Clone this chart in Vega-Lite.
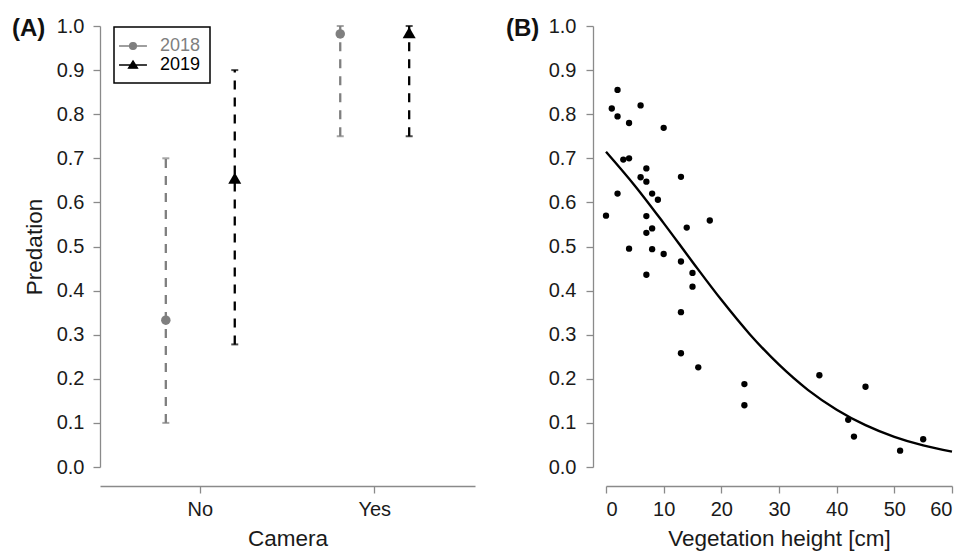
{
  "$schema": "https://vega.github.io/schema/vega-lite/v6.json",
  "padding": {"left": 12, "top": 16, "right": 5, "bottom": 5},
  "background": "white",
  "config": {
    "font": "Liberation Sans",
    "view": {"stroke": null},
    "axis": {"grid": false, "domainColor": "#8a8a8a", "tickColor": "#8a8a8a", "domainWidth": 1.3, "tickWidth": 1.3, "tickSize": 7, "labelColor": "#1a1a1a", "titleColor": "#1a1a1a", "labelFontSize": 20, "titleFontSize": 22.5, "titleFontWeight": "normal", "labelPadding": 9},
    "title": {"fontSize": 24, "fontWeight": "bold", "color": "#111", "anchor": "start", "frame": "group", "baseline": "middle"}
  },
  "hconcat": [
    {
      "width": 375,
      "height": 441,
      "title": {"text": "(A)", "dx": -88, "dy": 25, "offset": 0},
      "data": {"values": [
        {"Camera": "No", "Year": "2018", "p": 0.333, "lo": 0.10, "hi": 0.70},
        {"Camera": "No", "Year": "2019", "p": 0.655, "lo": 0.278, "hi": 0.90},
        {"Camera": "Yes", "Year": "2018", "p": 0.982, "lo": 0.75, "hi": 1.0},
        {"Camera": "Yes", "Year": "2019", "p": 0.985, "lo": 0.75, "hi": 1.0}
      ]},
      "encoding": {
        "x": {"field": "Camera", "type": "nominal", "scale": {"type": "band", "paddingInner": 0.4, "paddingOuter": 0.275}, "axis": {"title": "Camera", "labelAngle": 0, "offset": 19, "titlePadding": 8, "labelPadding": 6}},
        "xOffset": {"field": "Year", "type": "nominal", "scale": {"type": "point", "padding": 0.259}},
        "color": {"field": "Year", "type": "nominal", "scale": {"domain": ["2018", "2019"], "range": ["#7f7f7f", "#000000"]},
          "legend": {
            "title": null, "orient": "none", "legendX": 14, "legendY": 1,
            "padding": 9, "labelFontSize": 18, "symbolSize": 324, "symbolStrokeWidth": 1.3, "labelOffset": 17, "rowPadding": 0,
            "strokeColor": "#000",
            "symbolType": {"expr": "datum.value == '2018' ? 'M-1.55,0L1.55,0M-0.38,0A0.38,0.38,0,1,1,0.38,0A0.38,0.38,0,1,1,-0.38,0Z' : 'M-1.55,0L1.55,0M0,-0.45L0.5,0.35L-0.5,0.35Z'"},
            "labelColor": {"expr": "datum.value == '2018' ? '#7f7f7f' : '#000000'"},
            "encode": {
              "legend": {"update": {"stroke": {"value": "#000"}, "strokeWidth": {"value": 1.5}}},
              "labels": {"update": {"fill": {"signal": "datum.value == '2018' ? '#7f7f7f' : '#000000'"}}}
            }
          }
        }
      },
      "layer": [
        {
          "transform": [{"filter": "datum.Year == '2018'"}],
          "mark": {"type": "point", "filled": true, "opacity": 1, "size": 90},
          "encoding": {"y": {"field": "p", "type": "quantitative"}}
        },
        {
          "transform": [{"filter": "datum.Year == '2019'"}],
          "mark": {"type": "point", "filled": true, "opacity": 1, "size": 170, "shape": "triangle-up"},
          "encoding": {"y": {"field": "p", "type": "quantitative"}}
        },
        {
          "mark": {"type": "rule", "strokeDash": [9, 8], "strokeWidth": 2.3},
          "encoding": {
            "y": {"field": "lo", "type": "quantitative", "scale": {"domain": [0, 1], "nice": false}, "axis": {"title": "Predation", "values": [0, 0.1, 0.2, 0.3, 0.4, 0.5, 0.6, 0.7, 0.8, 0.9, 1.0], "format": ".1f", "titlePadding": 10}},
            "y2": {"field": "hi"}
          }
        },
        {
          "mark": {"type": "tick", "orient": "horizontal", "size": 7, "thickness": 2},
          "encoding": {"y": {"field": "lo", "type": "quantitative"}}
        },
        {
          "mark": {"type": "tick", "orient": "horizontal", "size": 7, "thickness": 2},
          "encoding": {"y": {"field": "hi", "type": "quantitative"}}
        }
      ]
    },
    {
      "width": 346,
      "height": 441,
      "title": {"text": "(B)", "dx": -100, "dy": 25, "offset": 0},
      "layer": [
        {
          "data": {"values": [
            {"veg": 0, "pred": 0.570}, {"veg": 1, "pred": 0.813}, {"veg": 2, "pred": 0.855}, {"veg": 2, "pred": 0.795},
            {"veg": 2, "pred": 0.620}, {"veg": 3, "pred": 0.697}, {"veg": 4, "pred": 0.700}, {"veg": 4, "pred": 0.780},
            {"veg": 4, "pred": 0.495}, {"veg": 6, "pred": 0.820}, {"veg": 6, "pred": 0.657}, {"veg": 7, "pred": 0.677},
            {"veg": 7, "pred": 0.647}, {"veg": 7, "pred": 0.569}, {"veg": 7, "pred": 0.531}, {"veg": 7, "pred": 0.436},
            {"veg": 8, "pred": 0.620}, {"veg": 8, "pred": 0.541}, {"veg": 8, "pred": 0.494}, {"veg": 9, "pred": 0.606},
            {"veg": 10, "pred": 0.769}, {"veg": 10, "pred": 0.483}, {"veg": 13, "pred": 0.658}, {"veg": 13, "pred": 0.466},
            {"veg": 13, "pred": 0.351}, {"veg": 13, "pred": 0.258}, {"veg": 14, "pred": 0.543}, {"veg": 15, "pred": 0.440},
            {"veg": 15, "pred": 0.409}, {"veg": 16, "pred": 0.226}, {"veg": 18, "pred": 0.559}, {"veg": 24, "pred": 0.188},
            {"veg": 24, "pred": 0.140}, {"veg": 37, "pred": 0.208}, {"veg": 42, "pred": 0.107}, {"veg": 43, "pred": 0.069},
            {"veg": 45, "pred": 0.182}, {"veg": 51, "pred": 0.037}, {"veg": 55, "pred": 0.063}
          ]},
          "mark": {"type": "point", "filled": true, "opacity": 1, "size": 40, "color": "#000"},
          "encoding": {
            "x": {"field": "veg", "type": "quantitative", "scale": {"domain": [0, 60], "nice": false}, "axis": {"title": "Vegetation height [cm]", "values": [0, 10, 20, 30, 40, 50, 60], "offset": 19, "titlePadding": 8, "labelPadding": 6}},
            "y": {"field": "pred", "type": "quantitative", "scale": {"domain": [0, 1], "nice": false}, "axis": {"title": null, "values": [0, 0.1, 0.2, 0.3, 0.4, 0.5, 0.6, 0.7, 0.8, 0.9, 1.0], "format": ".1f", "offset": 13, "labelPadding": 10}}
          }
        },
        {
          "data": {"values": [
            {"veg": 0, "fit": 0.715}, {"veg": 5, "fit": 0.638}, {"veg": 10, "fit": 0.553}, {"veg": 15, "fit": 0.465},
            {"veg": 20, "fit": 0.379}, {"veg": 25, "fit": 0.300}, {"veg": 30, "fit": 0.232}, {"veg": 35, "fit": 0.175},
            {"veg": 40, "fit": 0.130}, {"veg": 45, "fit": 0.095}, {"veg": 50, "fit": 0.0685}, {"veg": 55, "fit": 0.049},
            {"veg": 60, "fit": 0.035}
          ]},
          "mark": {"type": "line", "color": "#000", "strokeWidth": 2.4, "interpolate": "monotone"},
          "encoding": {
            "x": {"field": "veg", "type": "quantitative"},
            "y": {"field": "fit", "type": "quantitative"}
          }
        }
      ]
    }
  ],
  "spacing": 31
}
